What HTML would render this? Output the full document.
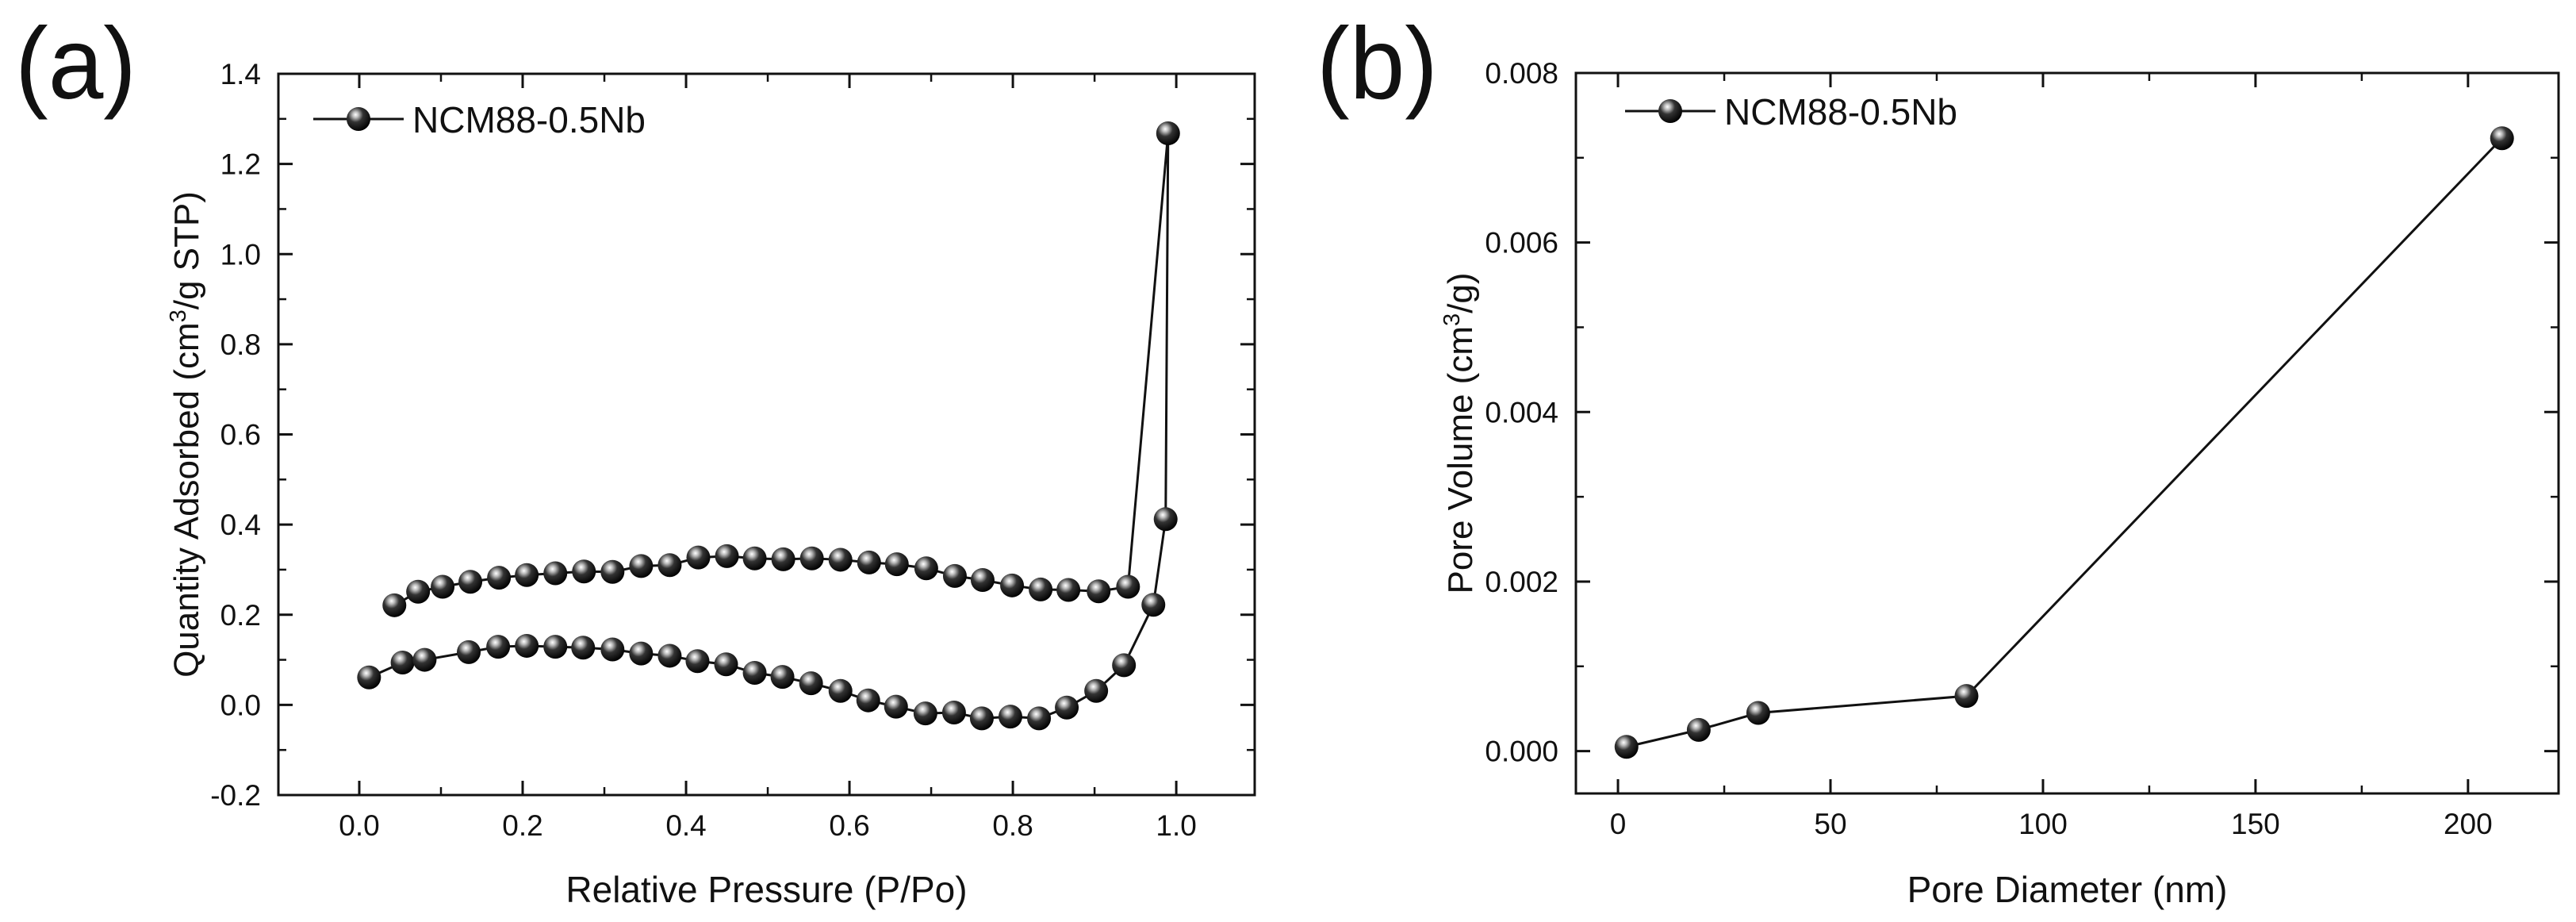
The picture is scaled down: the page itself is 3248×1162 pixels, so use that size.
<!DOCTYPE html>
<html><head><meta charset="utf-8"><style>
body{margin:0;background:#fff;overflow:hidden;}
svg text{font-family:"Liberation Sans",Arial,sans-serif;fill:#111;}
</style></head><body>
<svg id="fig" width="3248" height="1157" xmlns="http://www.w3.org/2000/svg">
<defs>
<radialGradient id="ball" cx="0.38" cy="0.32" r="0.7">
<stop offset="0" stop-color="#ffffff"/><stop offset="0.18" stop-color="#bbbbbb"/><stop offset="0.45" stop-color="#333"/><stop offset="1" stop-color="#000"/>
</radialGradient>
</defs>
</svg>
<script>
// Panel (a) data
const aX = [0.012,0.053,0.08,0.134,0.17,0.205,0.24,0.274,0.31,0.345,0.38,0.414,0.449,0.484,0.518,0.553,0.589,0.623,0.657,0.693,0.728,0.762,0.797,0.832,0.866,0.902,0.936,0.972,0.987,0.99,0.941,0.905,0.868,0.834,0.799,0.763,0.729,0.694,0.658,0.624,0.589,0.554,0.519,0.484,0.45,0.415,0.38,0.345,0.31,0.275,0.24,0.205,0.171,0.136,0.102,0.072,0.043];
const aY = [0.061,0.094,0.10,0.117,0.129,0.131,0.129,0.127,0.123,0.114,0.109,0.097,0.09,0.071,0.062,0.048,0.031,0.01,-0.004,-0.019,-0.017,-0.03,-0.026,-0.03,-0.006,0.031,0.088,0.222,0.412,1.268,0.262,0.252,0.255,0.256,0.265,0.277,0.286,0.303,0.312,0.316,0.322,0.325,0.323,0.325,0.33,0.327,0.31,0.308,0.295,0.296,0.292,0.288,0.282,0.273,0.262,0.251,0.221];
const aXTicks = ["0.0","0.2","0.4","0.6","0.8","1.0"];
const aYTicks = ["-0.2","0.0","0.2","0.4","0.6","0.8","1.0","1.2","1.4"];
// Panel (b) data
const bX = [2,19,33,82,208];
const bY = [0.00005,0.00025,0.00045,0.00065,0.00723];
const bXTicks = ["0","50","100","150","200"];
const bYTicks = ["0.000","0.002","0.004","0.006","0.008"];

const NS="http://www.w3.org/2000/svg";
const svg=document.getElementById('fig');
function mk(tag,attrs,parent){const e=document.createElementNS(NS,tag);for(const k in attrs)e.setAttribute(k,attrs[k]);(parent||svg).appendChild(e);return e;}

function panel(o){
  const g=mk('g',{});
  
  
  const sx=v=>o.L+(v-o.x0)/(o.x1-o.x0)*(o.R-o.L);
  const sy=v=>o.B-(v-o.y0)/(o.y1-o.y0)*(o.B-o.T);
  const fr=mk('rect',{x:o.L,y:o.T,width:o.R-o.L,height:o.B-o.T,fill:'none',stroke:'#111','stroke-width':3},g);
  
  
  o.xt.forEach(t=>{
    const v=parseFloat(t),x=sx(v);
    mk('line',{x1:x,x2:x,y1:o.B,y2:o.B-18,stroke:'#111','stroke-width':3},g);
    mk('line',{x1:x,x2:x,y1:o.T,y2:o.T+18,stroke:'#111','stroke-width':3},g);
    const m=v+o.xm;
    if(m<o.x1){const xm=sx(m);
      mk('line',{x1:xm,x2:xm,y1:o.B,y2:o.B-10,stroke:'#111','stroke-width':2.5},g);
      mk('line',{x1:xm,x2:xm,y1:o.T,y2:o.T+10,stroke:'#111','stroke-width':2.5},g);}
    const tx=mk('text',{x:x,y:o.B+51,'font-size':37,'text-anchor':'middle'},g);tx.textContent=t;
    
    
  });
  o.yt.forEach(t=>{
    const v=parseFloat(t),y=sy(v);
    mk('line',{x1:o.L,x2:o.L+18,y1:y,y2:y,stroke:'#111','stroke-width':3},g);
    mk('line',{x1:o.R,x2:o.R-18,y1:y,y2:y,stroke:'#111','stroke-width':3},g);
    const m=v+o.ym;
    if(m<o.y1-1e-9){const ym=sy(m);
      mk('line',{x1:o.L,x2:o.L+10,y1:ym,y2:ym,stroke:'#111','stroke-width':2.5},g);
      mk('line',{x1:o.R,x2:o.R-10,y1:ym,y2:ym,stroke:'#111','stroke-width':2.5},g);}
    const ty=mk('text',{x:o.L-22,y:y+13,'font-size':37,'text-anchor':'end'},g);ty.textContent=t;
    
    
  });
  const pts=o.xs.map((v,i)=>sx(v)+','+sy(o.ys[i])).join(' ');
  const pl=mk('polyline',{points:pts,fill:'none',stroke:'#111','stroke-width':3},g);
  
  
  o.xs.forEach((v,i)=>{
    const c=mk('circle',{cx:sx(v),cy:sy(o.ys[i]),r:15,fill:'url(#ball)'},g);
    
    
  });
  mk('line',{x1:o.lx,x2:o.lx+114,y1:o.ly,y2:o.ly,stroke:'#111','stroke-width':3},g);
  mk('circle',{cx:o.lx+57,cy:o.ly,r:15,fill:'url(#ball)'},g);
  const lt=mk('text',{x:o.lx+125,y:o.ly+17,'font-size':46},g);lt.textContent='NCM88-0.5Nb';
  
  
  const xt=mk('text',{x:(o.L+o.R)/2,y:1137,'font-size':46,'text-anchor':'middle'},g);xt.textContent=o.xtitle;
  
  
  const yc=(o.T+o.B)/2;
  const yt=mk('text',{x:o.ytx,y:yc,'font-size':44,'text-anchor':'middle',transform:`rotate(-90 ${o.ytx} ${yc})`},g);
  yt.innerHTML=o.ytitle;
  
  
  const pl2=mk('text',{x:o.px,y:124,'font-size':128,textLength:153,lengthAdjust:'spacingAndGlyphs','font-family':'DejaVu Sans, sans-serif'},g);pl2.textContent=o.plabel;
  
  
}

panel({name:'panel-a',L:351,R:1582,T:93,B:1002,x0:-0.099,x1:1.096,y0:-0.2,y1:1.4,xm:0.1,ym:0.1,
  xt:aXTicks,yt:aYTicks,xs:aX,ys:aY,lx:395,ly:150,xtitle:'Relative Pressure (P/Po)',
  ytitle:'Quantity Adsorbed (cm<tspan font-size="29" dy="-16">3</tspan><tspan dy="16">/g STP)</tspan>',ytx:250,px:19,plabel:'(a)'});
panel({name:'panel-b',L:1987,R:3226,T:92,B:1000,x0:-9.9,x1:221.3,y0:-0.0005,y1:0.008,xm:25,ym:0.001,
  xt:bXTicks,yt:bYTicks,xs:bX,ys:bY,lx:2049,ly:140,xtitle:'Pore Diameter (nm)',
  ytitle:'Pore Volume (cm<tspan font-size="29" dy="-16">3</tspan><tspan dy="16">/g)</tspan>',ytx:1856,px:1660,plabel:'(b)'});
</script>
</body></html>
